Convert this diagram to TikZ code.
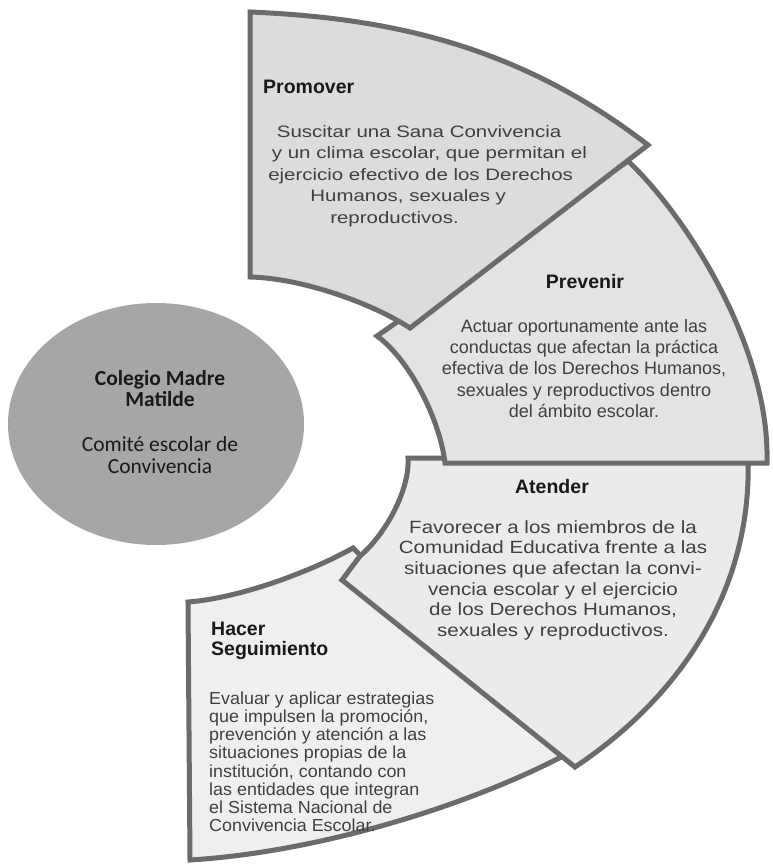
\documentclass[tikz,border=0pt]{standalone}
\usepackage{fontspec}
\usepackage{tikz}
\usetikzlibrary{shapes.geometric}
\setmainfont{Liberation Sans}
\newfontfamily\calibri{Carlito}
\definecolor{borderc}{HTML}{6B6B6B}
\definecolor{promoverc}{HTML}{DCDCDF}
\definecolor{prevenirc}{HTML}{E3E3E6}
\definecolor{atenderc}{HTML}{EBEBED}
\definecolor{seguimientoc}{HTML}{EEEFF1}
\definecolor{hubc}{HTML}{A6A6A6}
\colorlet{textc}{black!75}
\colorlet{titlec}{black!90}
\tikzstyle{segment} = [
    draw=borderc,
    line width=5pt,
    line join=miter
    ]
\tikzstyle{segtitle} = [
    text=titlec,
    font=\fontsize{19.5}{20}\selectfont\bfseries,
    inner sep=0pt
    ]
\tikzstyle{segtext} = [
    text=textc,
    inner sep=0pt
    ]
\tikzstyle{hub} = [
    ellipse,
    fill=hubc,
    minimum width=296pt,
    minimum height=242pt,
    inner sep=0pt
    ]
\tikzstyle{hubtext} = [
    text=black!90,
    font=\calibri\fontsize{21.5}{22}\selectfont,
    align=center,
    inner sep=0pt
    ]

\begin{document}
\begin{tikzpicture}[x=1pt,y=-1pt]
\fill[white] (0,0) rectangle (772,867);
\useasboundingbox (0,0) rectangle (772,867);

% comite
\node[hub] (colegio) at (156,424) {};
\node[hubtext, font=\calibri\bfseries\fontsize{21.5}{21}\selectfont, anchor=north] (colegiotitle) at (160,370.5) {Colegio Madre\\Matilde};
\node[hubtext, anchor=north] (comite) at (160,436.5) {Comité escolar de\\Convivencia};

% segments, back to front
\filldraw[segment, fill=seguimientoc] (188,602) .. controls (240,598) and (310,572) .. (353,548) -- (565,755) .. controls (470,805) and (320,852) .. (190,860) -- cycle;
\filldraw[segment, fill=atenderc] (408,458) -- (748,458) .. controls (752,580) and (690,690) .. (575,767) -- (342,580) -- (360,556) .. controls (385,535) and (410,490) .. (408,458) -- cycle;
\filldraw[segment, fill=prevenirc] (377,336) -- (628,161) .. controls (690,220) and (770,350) .. (767,463) -- (445,463) .. controls (440,420) and (410,360) .. (377,336) -- cycle;
\filldraw[segment, fill=promoverc] (250,12) .. controls (390,18) and (518,45) .. (648,145) -- (410,328) .. controls (370,302) and (300,278) .. (250,277) -- cycle;

\node[segtitle, anchor=base west] (promover) at (263,93) {Promover};
\node[segtext, font=\fontsize{16.5}{21.5}\selectfont, align=left, xscale=1.24, anchor=north west] (promovertxt) at (268,125) {\hspace*{7pt}Suscitar una Sana Convivencia\\\hspace*{3pt}y un clima escolar, que permitan el\\ejercicio efectivo de los Derechos\\\hspace*{34pt}Humanos, sexuales y\\\hspace*{50pt}reproductivos.};

\node[segtitle, anchor=base] (prevenir) at (585,288) {Prevenir};
\node[segtext, font=\fontsize{18}{21.3}\selectfont, align=center, anchor=north] (prevenirtxt) at (584,319) {Actuar oportunamente ante las\\conductas que afectan la práctica\\efectiva de los Derechos Humanos,\\sexuales y reproductivos dentro\\del ámbito escolar.};

\node[segtitle, anchor=base] (atender) at (552,493) {Atender};
\node[segtext, font=\fontsize{17.7}{20.7}\selectfont, align=center, xscale=1.16, anchor=north] (atendertxt) at (553,520) {Favorecer a los miembros de la\\Comunidad Educativa frente a las\\situaciones que afectan la convi-\\vencia escolar y el ejercicio\\de los Derechos Humanos,\\sexuales y reproductivos.};

\node[segtitle, align=left, anchor=north west] (seguimiento) at (211,621.5) {Hacer\\Seguimiento};
\node[segtext, font=\fontsize{17.4}{18.2}\selectfont, align=left, xscale=1.03, anchor=north west] (seguimientotxt) at (209,691.5) {Evaluar y aplicar estrategias\\que impulsen la promoción,\\prevención y atención a las\\situaciones propias de la\\institución, contando con\\las entidades que integran\\el Sistema Nacional de\\Convivencia Escolar.};
\end{tikzpicture}
\end{document}
